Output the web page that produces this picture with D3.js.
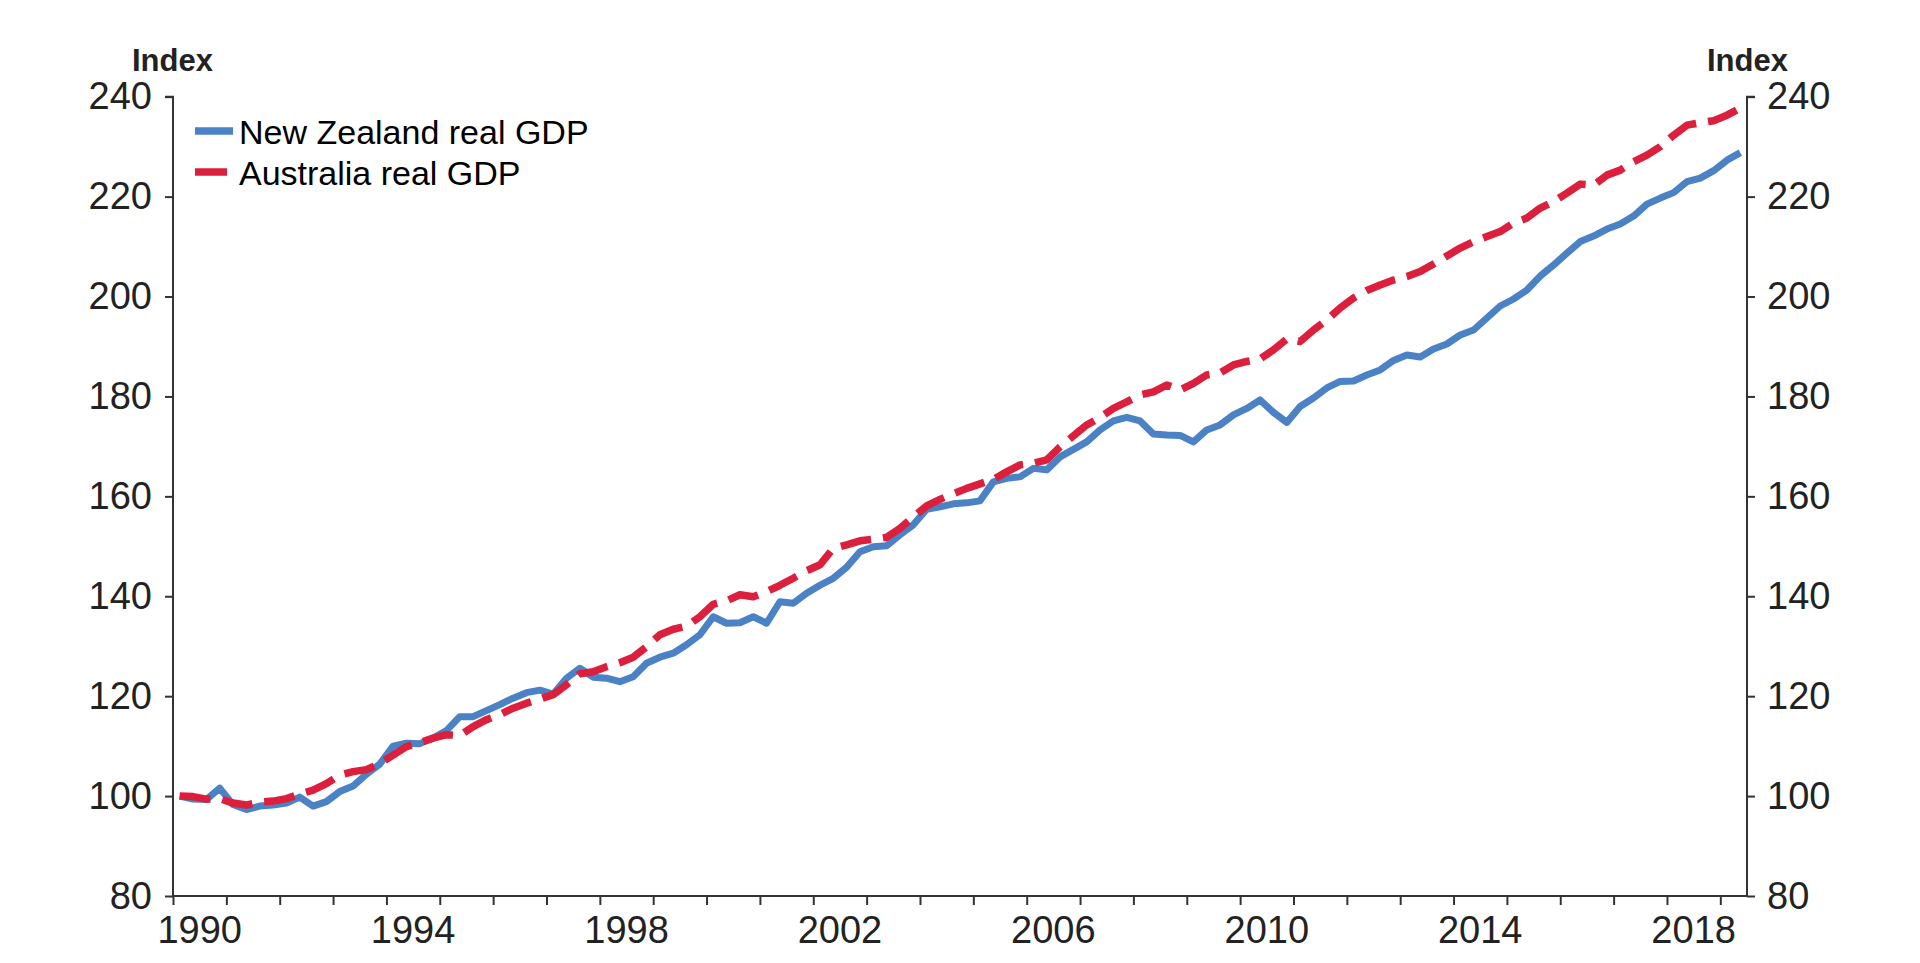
<!DOCTYPE html>
<html>
<head>
<meta charset="utf-8">
<script src="https://cdn.jsdelivr.net/npm/d3@7"></script>
<style>
  body { margin: 0; background: #fff; }
  svg text { font-family: "Liberation Sans", Arial, sans-serif; fill: #222; }
  .axis path, .axis line { stroke: #333; stroke-width: 2; }
</style>
</head>
<body>
<svg id="chart" width="1920" height="963"></svg>
<script>
// quarterly index, 1990 Q1 = 100 (last point 2019 Q2)
var startYear = 1990;
var seriesNames = ["New Zealand real GDP", "Australia real GDP"];
var nzGdp = [
	100, 99.4, 99.3, 101.6, 98.3, 97.3, 98.0, 98.2, 98.6, 99.8,
	98.0, 98.9, 100.9, 102.0, 104.4, 106.4, 110.0, 110.6, 110.5, 111.6,
	113.1, 115.9, 115.9, 117.1, 118.3, 119.6, 120.7, 121.2, 120.4, 123.6,
	125.6, 123.8, 123.6, 122.9, 123.9, 126.6, 127.8, 128.6, 130.3, 132.3,
	135.9, 134.6, 134.7, 135.9, 134.6, 138.9, 138.6, 140.6, 142.2, 143.6,
	145.8, 148.9, 149.9, 150.1, 152.3, 154.3, 157.4, 157.9, 158.5, 158.7,
	159.1, 162.9, 163.6, 163.9, 165.6, 165.3, 167.9, 169.4, 170.9, 173.3,
	175.1, 175.8, 175.1, 172.5, 172.3, 172.2, 170.9, 173.3, 174.3, 176.3,
	177.6, 179.3, 176.8, 174.8, 178.0, 179.7, 181.7, 183.0, 183.1, 184.3,
	185.3, 187.2, 188.3, 187.9, 189.5, 190.5, 192.3, 193.3, 195.7, 198.1,
	199.5, 201.3, 204.1, 206.3, 208.7, 211.0, 212.1, 213.5, 214.5, 216.1,
	218.5, 219.7, 220.8, 223.0, 223.7, 225.2, 227.3, 228.8
];
var auGdp = [
	100, 99.9, 99.4, 99.5, 98.6, 98.2, 98.8, 99.0, 99.5, 100.4,
	101.2, 102.5, 104.2, 104.9, 105.3, 106.5, 108.2, 109.9, 110.7, 111.6,
	112.3, 112.1, 113.9, 115.3, 116.3, 117.6, 118.6, 119.4, 120.3, 122.3,
	124.5, 124.9, 125.9, 126.7, 127.8, 129.9, 132.3, 133.4, 134.0, 135.9,
	138.4, 139.1, 140.3, 139.9, 140.9, 142.2, 143.6, 145.1, 146.3, 149.6,
	150.3, 151.1, 151.4, 151.8, 153.6, 155.9, 158.1, 159.4, 160.5, 161.6,
	162.5, 163.4, 164.9, 166.3, 166.6, 167.3, 169.9, 172.1, 174.3, 175.8,
	177.6, 178.9, 180.3, 180.9, 182.3, 181.3, 182.6, 184.3, 184.7, 186.3,
	187.0, 187.5, 189.3, 191.5, 191.0, 193.3, 195.3, 197.7, 199.7, 201.2,
	202.3, 203.3, 204.0, 205.0, 206.5, 208.1, 209.7, 211.0, 212.0, 213.0,
	214.7, 215.7, 217.7, 219.0, 220.7, 222.5, 222.3, 224.3, 225.3, 227.0,
	228.3, 230.0, 232.3, 234.3, 234.8, 235.2, 236.3, 237.7
];
var yTicks = [80, 100, 120, 140, 160, 180, 200, 220, 240];
var yearLabels = [1990, 1994, 1998, 2002, 2006, 2010, 2014, 2018];
var colours = ["#4A82C5", "#DB1F3D"];

var svg = d3.select("#chart");

var plotLeft = 173, plotRight = 1747, plotTop = 96.7, plotBottom = 896;

var x = d3.scaleLinear()
	.domain([startYear, startYear + nzGdp.length / 4])
	.range([plotLeft, plotRight]);
var y = d3.scaleLinear()
	.domain([80, 240])
	.range([plotBottom, plotTop]);

function qx(d, i) { return x(startYear + (i + 0.5) / 4); } // middle of the quarter

// x axis: a tick at each year boundary, labels in the middle of the year
var xAxis = svg.append("g")
	.attr("class", "axis")
	.attr("transform", "translate(0," + plotBottom + ")")
	.call(d3.axisBottom(x)
		.tickValues(d3.range(startYear, 2020))
		.tickSize(9)
		.tickFormat(""));
xAxis.selectAll(".tick line").attr("stroke-width", 2.5);
xAxis.select(".domain").attr("d", "M" + plotLeft + ",0H" + plotRight);

svg.append("g").selectAll("text")
	.data(yearLabels)
	.enter().append("text")
	.attr("x", function(d) { return x(d + 0.5); })
	.attr("y", 943)
	.attr("text-anchor", "middle")
	.style("font-size", "38px")
	.text(function(d) { return d; });

// left and right y axes
var yLeft = svg.append("g")
	.attr("class", "axis")
	.attr("transform", "translate(" + plotLeft + ",0)")
	.call(d3.axisLeft(y).tickValues(yTicks).tickSize(8).tickPadding(13));
var yRight = svg.append("g")
	.attr("class", "axis")
	.attr("transform", "translate(" + plotRight + ",0)")
	.call(d3.axisRight(y).tickValues(yTicks).tickSize(8).tickPadding(12));

yLeft.select(".domain").attr("d", "M0," + plotBottom + "V" + plotTop + "h-8");
yRight.select(".domain").attr("d", "M0," + plotBottom + "V" + plotTop + "h8");
[yLeft, yRight].forEach(function(g) {
	g.selectAll(".tick text")
		.style("font-size", "38px")
		.attr("fill", "#222");
});

svg.append("text")
	.attr("x", 132).attr("y", 71)
	.style("font-size", "31px").style("font-weight", "bold")
	.text("Index");
svg.append("text")
	.attr("x", 1707).attr("y", 71)
	.style("font-size", "31px").style("font-weight", "bold")
	.text("Index");

// lines
var line = d3.line()
	.x(qx)
	.y(function(d) { return y(d); });

svg.append("path")
	.datum(nzGdp)
	.attr("d", line)
	.attr("fill", "none")
	.attr("stroke", colours[0])
	.attr("stroke-width", 7)
	.attr("stroke-linejoin", "round");

svg.append("path")
	.datum(auGdp)
	.attr("d", line)
	.attr("fill", "none")
	.attr("stroke", colours[1])
	.attr("stroke-width", 7.5)
	.attr("stroke-dasharray", "31,12")
	.attr("stroke-linejoin", "round");

// legend
var legend = svg.append("g").selectAll("g")
	.data(seriesNames)
	.enter().append("g")
	.attr("transform", function(d, i) { return "translate(195," + (131 + i * 41) + ")"; });

legend.append("line")
	.attr("x1", 0)
	.attr("x2", function(d, i) { return i == 0 ? 38 : 32; })
	.attr("stroke", function(d, i) { return colours[i]; })
	.attr("stroke-width", 7.5);

legend.append("text")
	.attr("x", 44)
	.attr("y", 13)
	.style("font-size", "34px")
	.style("fill", "#000")
	.text(function(d) { return d; });
</script>
</body>
</html>
